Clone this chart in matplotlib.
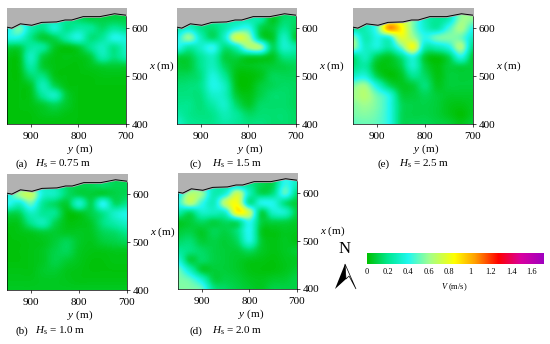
import matplotlib
matplotlib.use("Agg")
import matplotlib.pyplot as plt
from matplotlib.colors import LinearSegmentedColormap
import numpy as np

plt.rcParams['font.family'] = ['Liberation Serif', 'DejaVu Serif']
plt.rcParams['mathtext.fontset'] = 'custom'
plt.rcParams['mathtext.rm'] = 'Liberation Serif'
plt.rcParams['mathtext.it'] = 'Liberation Serif:italic'

##### data #####
# columns y = 950, 925 ... 700, rows x = 640, 620 ... 400
y_grid = [950, 925, 900, 875, 850, 825, 800, 775, 750, 725, 700]
x_grid = [640, 620, 600, 580, 560, 540, 520, 500, 480, 460, 440, 420, 400]

coast_y = [950, 940, 922, 898, 877, 846, 828, 814, 790, 755, 724, 700]
coast_x = [602, 600, 609, 606, 612, 613, 617, 617, 624, 624, 630, 627]

v_a = [[.25, .25, .25, .25, .25, .25, .20, .12, .12, .12, .12],
       [.25, .25, .25, .25, .25, .22, .15, .10, .10, .10, .10],
       [.35, .52, .28, .20, .34, .20, .25, .22, .15, .22, .18],
       [.38, .38, .20, .08, .12, .25, .36, .18, .22, .38, .35],
       [.10, .10, .24, .22, .06, .03, .08, .20, .30, .20, .32],
       [.03, .04, .30, .10, .03, .03, .03, .08, .26, .18, .26],
       [.02, .03, .24, .08, .03, .02, .02, .04, .07, .07, .07],
       [.02, .02, .15, .18, .04, .02, .02, .02, .03, .03, .03],
       [.02, .02, .06, .28, .12, .03, .02, .02, .02, .02, .02],
       [.02, .02, .04, .22, .30, .08, .02, .02, .02, .02, .02],
       [.02, .02, .03, .07, .12, .06, .02, .02, .02, .02, .02],
       [.02, .02, .02, .04, .05, .03, .02, .02, .02, .02, .02],
       [.02, .02, .02, .02, .02, .02, .02, .02, .02, .02, .02]]

v_b = [[.30, .40, .30, .30, .25, .20, .15, .12, .12, .12, .12],
       [.30, .40, .35, .30, .25, .15, .12, .12, .15, .12, .12],
       [.35, .60, .68, .35, .30, .15, .10, .08, .08, .10, .12],
       [.42, .32, .50, .22, .14, .08, .32, .12, .40, .15, .20],
       [.12, .12, .30, .22, .20, .03, .05, .10, .20, .32, .38],
       [.04, .05, .20, .28, .12, .03, .03, .06, .18, .26, .32],
       [.02, .03, .05, .08, .07, .05, .05, .05, .12, .15, .20],
       [.02, .02, .03, .04, .08, .12, .06, .04, .08, .10, .12],
       [.02, .02, .03, .05, .10, .12, .05, .03, .03, .04, .04],
       [.02, .02, .03, .05, .10, .07, .04, .02, .02, .03, .03],
       [.03, .03, .03, .06, .07, .04, .03, .02, .02, .02, .02],
       [.04, .04, .04, .05, .05, .04, .03, .03, .03, .03, .03],
       [.05, .05, .05, .05, .05, .05, .05, .05, .05, .05, .05]]

v_c = [[.25, .25, .25, .25, .25, .25, .25, .25, .15, .15, .15],
       [.25, .25, .25, .25, .25, .25, .25, .25, .06, .15, .15],
       [.25, .32, .20, .16, .25, .38, .42, .12, .08, .20, .12],
       [.38, .58, .30, .15, .32, .72, .62, .15, .06, .30, .08],
       [.40, .25, .32, .42, .18, .30, .60, .60, .14, .32, .25],
       [.10, .10, .22, .30, .10, .10, .08, .08, .05, .18, .18],
       [.08, .08, .20, .30, .14, .05, .04, .06, .08, .10, .12],
       [.12, .13, .18, .36, .22, .03, .01, .04, .12, .12, .12],
       [.16, .17, .20, .38, .30, .04, .01, .08, .12, .14, .13],
       [.18, .18, .18, .32, .30, .08, .03, .10, .15, .15, .13],
       [.20, .20, .17, .25, .32, .15, .06, .14, .15, .15, .13],
       [.25, .20, .18, .20, .28, .22, .14, .16, .16, .16, .14],
       [.32, .22, .20, .20, .25, .22, .18, .18, .16, .16, .14]]

v_d = [[.30, .30, .30, .30, .25, .20, .20, .12, .12, .42, .30],
       [.30, .30, .30, .30, .25, .20, .20, .12, .12, .42, .30],
       [.35, .62, .58, .28, .35, .68, .30, .12, .18, .48, .18],
       [.42, .66, .45, .30, .68, .80, .22, .38, .38, .18, .08],
       [.26, .16, .32, .30, .35, .85, .68, .12, .32, .32, .10],
       [.06, .08, .14, .10, .14, .18, .42, .10, .10, .10, .06],
       [.08, .10, .06, .12, .10, .18, .40, .06, .03, .05, .04],
       [.14, .16, .08, .10, .08, .14, .36, .08, .03, .05, .03],
       [.22, .18, .14, .10, .08, .08, .14, .06, .03, .05, .07],
       [.36, .10, .14, .10, .08, .06, .04, .03, .02, .04, .05],
       [.52, .30, .08, .08, .08, .06, .03, .02, .02, .04, .07],
       [.55, .50, .33, .10, .10, .08, .05, .04, .06, .07, .10],
       [.55, .55, .50, .20, .14, .10, .07, .05, .10, .10, .10]]

v_e = [[.30, .30, .40, .60, .70, .55, .30, .25, .30, .55, .55],
       [.30, .30, .40, .65, .72, .55, .30, .22, .28, .58, .58],
       [.22, .28, .48, 1.05, .88, .55, .33, .25, .45, .62, .42],
       [.55, .28, .38, .38, .76, .62, .42, .52, .55, .52, .30],
       [.58, .32, .35, .25, .50, .80, .28, .28, .38, .62, .18],
       [.18, .30, .12, .06, .18, .38, .08, .03, .12, .38, .08],
       [.18, .24, .05, .03, .10, .32, .10, .02, .08, .10, .08],
       [.32, .36, .12, .02, .05, .20, .14, .03, .08, .08, .08],
       [.55, .60, .36, .14, .05, .08, .17, .05, .08, .08, .08],
       [.60, .65, .52, .38, .10, .08, .12, .08, .06, .06, .06],
       [.56, .60, .54, .40, .14, .10, .10, .08, .04, .03, .05],
       [.54, .56, .52, .40, .14, .10, .10, .08, .04, .01, .05],
       [.50, .52, .50, .40, .14, .12, .12, .10, .08, .04, .08]]

cbar_ticks = [0, 0.2, 0.4, 0.6, 0.8, 1, 1.2, 1.4, 1.6]
cbar_labels = ['0', '0.2', '0.4', '0.6', '0.8', '1', '1.2', '1.4', '1.6']
vmax = 1.72

##### colour map #####
cmap = LinearSegmentedColormap.from_list('vel', [
    (0 / vmax, '#00c000'), (0.2 / vmax, '#00e890'), (0.4 / vmax, '#20f8f0'),
    (0.6 / vmax, '#a0ff90'), (0.85 / vmax, '#ffff00'), (1.05 / vmax, '#ffa000'),
    (1.28 / vmax, '#ff0000'), (1.5 / vmax, '#d800a0'), (1.72 / vmax, '#a000c0')])

W, H = 550, 344
fig = plt.figure(figsize=(W / 100, H / 100), dpi=100)


def pixel_axes(left, top, right, bottom):
    return fig.add_axes([left / W, 1 - bottom / H, (right - left) / W, (bottom - top) / H])


def panel(left, top, right, bottom, values, name, hs, lab_x, lab_gap, lab_y):
    ax = pixel_axes(left, top, right, bottom)
    ax.imshow(np.array(values), cmap=cmap, vmin=0, vmax=vmax, aspect='auto',
              interpolation='catrom', interpolation_stage='data',
              extent=[962.5, 687.5, 390, 650])
    ax.fill_between(coast_y, coast_x, 642, color='#b2b2b2', zorder=3)
    ax.plot(coast_y, coast_x, color='black', lw=0.7, zorder=4)
    ax.set_xlim(950, 700)
    ax.set_ylim(400, 642)
    ax.set_xticks([900, 800, 700])
    ax.set_yticks([400, 500, 600])
    ax.yaxis.tick_right()
    ax.tick_params(labelsize=8, length=2, width=0.5, pad=2)
    ax.tick_params(axis='x', pad=3.5)
    for s in ax.spines.values():
        s.set_linewidth(0.5)
    fig.text((left + 73) / W, 1 - (bottom + 25) / H, '$\\mathit{y}$ (m)',
             fontsize=8, ha='center', va='center')
    fig.text((right + 36) / W, 1 - (top + 58) / H, '$\\mathit{x}$ (m)',
             fontsize=8, ha='center', va='center')
    fig.text(lab_x / W, 1 - lab_y / H, name, fontsize=8, ha='left', va='center')
    fig.text((lab_x + lab_gap) / W, 1 - lab_y / H, '$\\mathit{H}_{\\mathrm{s}}$ = ' + hs + ' m',
             fontsize=8, ha='left', va='center')
    return ax


panel(7, 8, 126, 124, v_a, '(a)', '0.75', 16, 19, 164)
panel(177, 8, 296, 124, v_c, '(c)', '1.5', 190, 22, 164)
panel(353, 8, 473, 124, v_e, '(e)', '2.5', 378, 21, 164)
panel(7, 174, 127, 290, v_b, '(b)', '1.0', 16, 19, 331)
panel(178, 173, 297, 289, v_d, '(d)', '2.0', 190, 22, 331)

##### colorbar #####
cax = pixel_axes(367, 253, 544, 264)
cax.imshow(np.linspace(0, vmax, 256).reshape(1, -1), cmap=cmap, aspect='auto',
           extent=[0, vmax, 0, 1], vmin=0, vmax=vmax)
cax.set_yticks([])
cax.set_xticks(cbar_ticks)
cax.set_xticklabels(cbar_labels)
cax.tick_params(labelsize=6, length=0, pad=3)
for s in cax.spines.values():
    s.set_visible(False)
fig.text(454 / W, 1 - 287 / H, '$\\mathit{V}$ (m/s)', fontsize=6, ha='center', va='center')

##### north arrow #####
fig.text(345 / W, 1 - 249 / H, 'N', fontsize=12, ha='center', va='center')
arrow = fig.add_axes([0, 0, 1, 1], facecolor='none')
arrow.set_axis_off()
arrow.set_xlim(0, W)
arrow.set_ylim(H, 0)
arrow.fill([335, 345, 348, 346], [289, 264, 276, 279], color='black', lw=0)
arrow.fill([346, 345, 356, 349], [279, 264, 289, 276], facecolor='white', edgecolor='black', lw=0.5)

fig.savefig('out.png', dpi=100)
